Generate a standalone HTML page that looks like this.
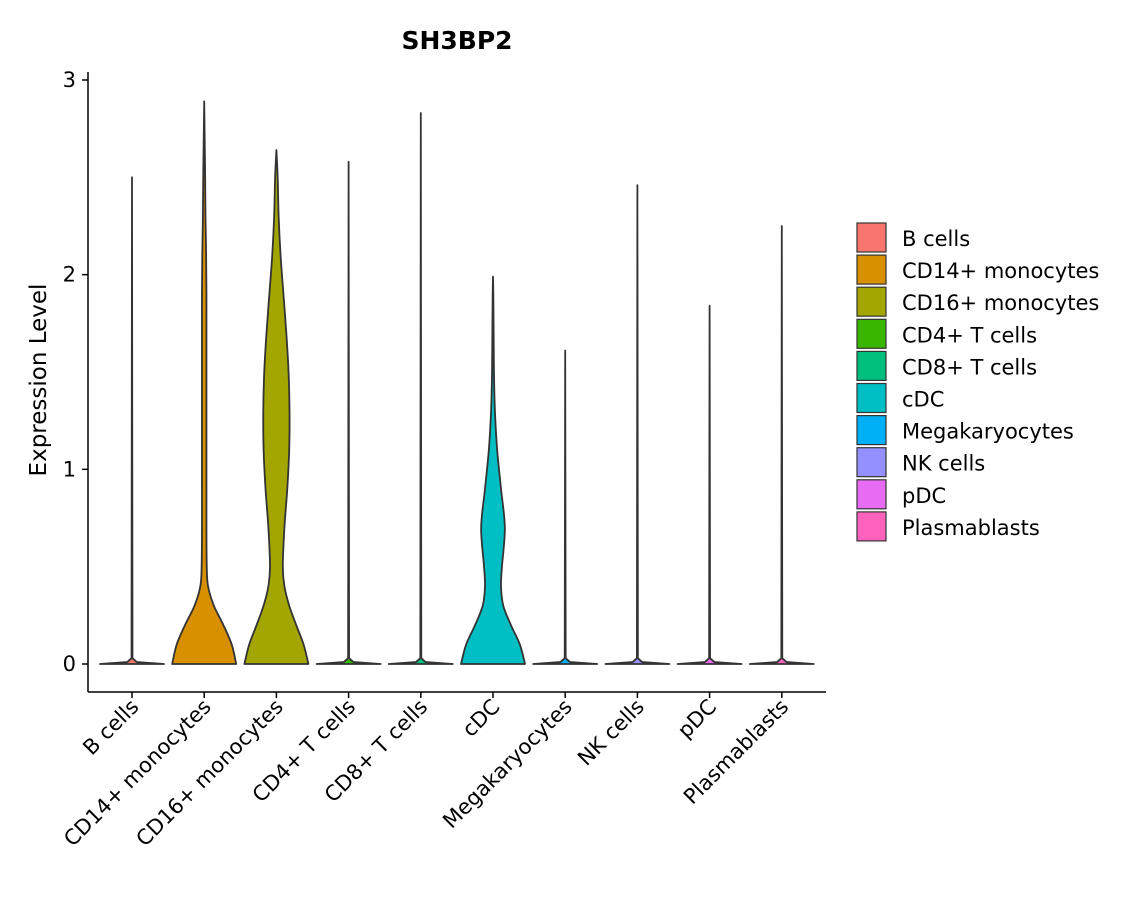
<!DOCTYPE html>
<html><head><meta charset="utf-8"><style>
body{margin:0;background:#fff;font-family:"Liberation Sans","DejaVu Sans",sans-serif;}
</style></head><body>
<svg id="chart" width="1140" height="900" xmlns="http://www.w3.org/2000/svg" font-family="'DejaVu Sans','Liberation Sans',sans-serif">
<text x="457" y="49" text-anchor="middle" font-size="25" font-weight="bold">SH3BP2</text>
<text transform="translate(46,380) rotate(-90)" text-anchor="middle" font-size="23">Expression Level</text>
<g id="plot"></g>
<g id="axes"></g>
<g id="legend"></g>
</svg>
<script>
const categories=["B cells","CD14+ monocytes","CD16+ monocytes","CD4+ T cells","CD8+ T cells","cDC","Megakaryocytes","NK cells","pDC","Plasmablasts"];
const colors=["#F8766D","#D89000","#A3A500","#39B600","#00BF7D","#00BFC4","#00B0F6","#9590FF","#E76BF3","#FF62BC"];
const maxValues=[2.50,2.89,2.64,2.58,2.83,1.99,1.61,2.46,1.84,2.25];
// density profiles: levels and relative half-widths (0..1)
const levels=[0,0.1,0.2,0.3,0.4,0.5,0.7,0.9,1.1,1.3,1.5,1.7,1.9,2.1,2.3,2.5];
const dCD14=[1,0.86,0.6,0.3,0.12,0.08,0.07,0.07,0.07,0.07,0.07,0.07,0.07,0.06,0.04,0.03];
const dCD16=[1,0.85,0.62,0.4,0.25,0.2,0.25,0.34,0.4,0.41,0.38,0.31,0.22,0.13,0.07,0.04];
const dCDC=[1,0.84,0.56,0.32,0.25,0.28,0.37,0.25,0.13,0.06,0.03,0.02,0.01,0.01,0.01,0.01];
const dThin=[1,0.01,0.01,0.01,0.01,0.01,0.01,0.01,0.01,0.01,0.01,0.01,0.01,0.01,0.01,0.01];
const densities=[dThin,dCD14,dCD16,dThin,dThin,dCDC,dThin,dThin,dThin,dThin];
const yTicks=[0,1,2,3];
const NS="http://www.w3.org/2000/svg";
const y=v=>664-v*194.67;
const x=i=>132+i*72.2;
const HW=32;
function mk(tag,attrs,parent){const e=document.createElementNS(NS,tag);for(const k in attrs)e.setAttribute(k,attrs[k]);parent.appendChild(e);return e;}
function smooth(P){
  let s="";
  for(let i=0;i<P.length-1;i++){
    const p0=P[Math.max(0,i-1)],p1=P[i],p2=P[i+1],p3=P[Math.min(P.length-1,i+2)];
    const c1=[p1[0]+(p2[0]-p0[0])/6,p1[1]+(p2[1]-p0[1])/6];
    const c2=[p2[0]-(p3[0]-p1[0])/6,p2[1]-(p3[1]-p1[1])/6];
    s+=` C${c1[0]},${c1[1]} ${c2[0]},${c2[1]} ${p2[0]},${p2[1]}`;
  }
  return s;
}
const plot=document.getElementById('plot'),axes=document.getElementById('axes'),leg=document.getElementById('legend');
categories.forEach((c,i)=>{
  const d=densities[i],mx=maxValues[i],cx=x(i);
  const pts=[];
  const thin=d===dThin;
  if(thin){
    pts.push([0,1]);pts.push([0.01,0.15]);pts.push([0.03,0.015]);
  } else {
    levels.forEach((l,j)=>{if(l<mx)pts.push([l,d[j]]);});
  }
  pts.push([mx,0]);
  const right=pts.map(q=>[cx+q[1]*HW,y(q[0])]);
  const left=pts.slice().reverse().map(q=>[cx-q[1]*HW,y(q[0])]);
  let p;
  if(thin){
    p="M"+cx+","+y(0)+right.map(q=>" L"+q[0]+","+q[1]).join("")+left.map(q=>" L"+q[0]+","+q[1]).join("")+"Z";
  } else {
    p="M"+cx+","+y(0)+" L"+right[0][0]+","+right[0][1]+smooth(right)+smooth(left)+"Z";
  }
  const path=mk('path',{d:p,fill:colors[i],stroke:"#333","stroke-width":1.8,"stroke-linejoin":"round"},plot);
  
  
  const t=mk('text',{transform:`translate(${cx+8},${708}) rotate(-45)`,"text-anchor":"end","font-size":21,fill:"#000"},axes);
  t.textContent=c;
  
  
  mk('line',{x1:cx,x2:cx,y1:692,y2:698,stroke:"#000","stroke-width":1.5},axes);
  const r=mk('rect',{x:857,y:223+i*32.1,width:29,height:29,fill:colors[i],stroke:"#333","stroke-width":1.2},leg);
  
  
  const lt=mk('text',{x:902,y:246+i*32.1,"font-size":21},leg);
  lt.textContent=c;
  
  
});
yTicks.forEach(v=>{
  mk('line',{x1:82,x2:88,y1:y(v),y2:y(v),stroke:"#000","stroke-width":1.5},axes);
  const t=mk('text',{x:76,y:y(v)+7,"text-anchor":"end","font-size":21},axes);
  t.textContent=v;
  
  
});
const ya=mk('line',{x1:88,x2:88,y1:72,y2:692,stroke:"#000","stroke-width":1.5},axes);


const xa=mk('line',{x1:88,x2:826,y1:692,y2:692,stroke:"#000","stroke-width":1.5},axes);


</script>
</body></html>
